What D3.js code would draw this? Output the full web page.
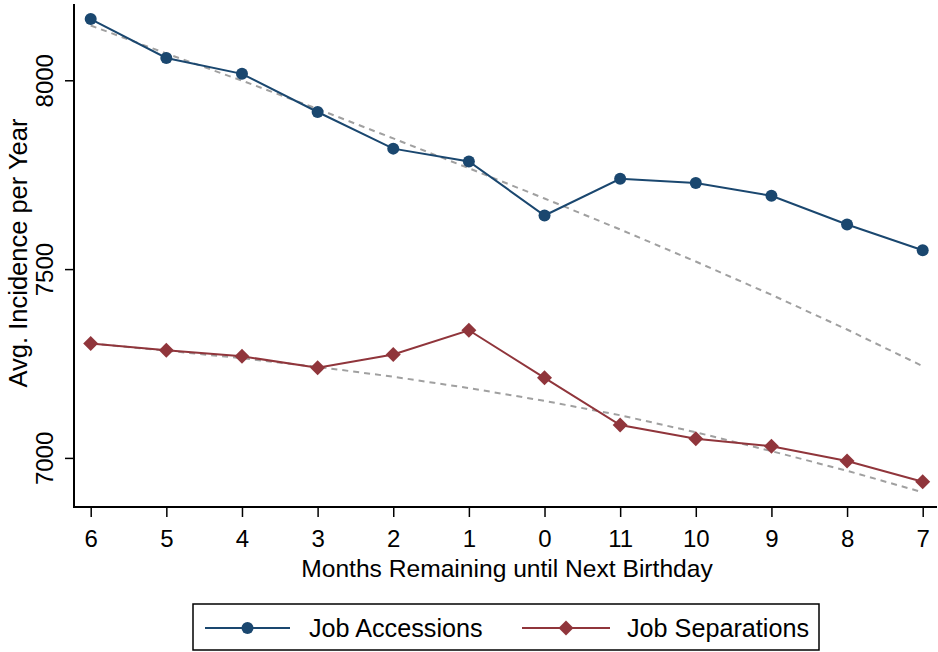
<!DOCTYPE html>
<html><head><meta charset="utf-8">
<script src="https://cdn.jsdelivr.net/npm/d3@7"></script>
<style>
html,body{margin:0;padding:0;background:#fff;}
svg{display:block;font-family:"Liberation Sans",Arial,sans-serif;}
</style></head>
<body>
<svg id="c" width="938" height="652"></svg>
<script>
const months = ["6","5","4","3","2","1","0","11","10","9","8","7"];
const accessions = [8162,8059,8017,7916,7819,7785,7642,7739,7728,7694,7618,7550];
const separations = [7303,7285,7269,7239,7274,7338,7212,7087,7051,7031,6992,6937];
const accessionsFit = [8145,8071,7999,7924,7846,7767,7687,7605,7520,7432,7340,7243];
const separationsFit = [7303,7284,7264,7241,7215,7185,7151,7113,7068,7018,6966,6909];
const yTicks = [7000,7500,8000];
const seriesNames = ["Job Accessions","Job Separations"];

(function(){
const navy = "#1a476f", maroon = "#90353b", gray = "#a0a0a0";
const svg = d3.select("#c");
const pL = 74, pR = 937, pT = 4, pB = 507;

const x = d3.scalePoint().domain(months).range([90.7, 922.7]);
const y = d3.scaleLinear().domain([6870, 8202]).range([pB, pT]);

const line = d3.line().x((d,i)=>x(months[i])).y(d=>y(d));
[accessionsFit, separationsFit].forEach(f=>{
  svg.append("path").attr("d", line(f)).attr("fill","none")
    .attr("stroke",gray).attr("stroke-width",2).attr("stroke-dasharray","6,5");
});

svg.append("path").attr("d", line(accessions)).attr("fill","none").attr("stroke",navy).attr("stroke-width",2);
svg.append("path").attr("d", line(separations)).attr("fill","none").attr("stroke",maroon).attr("stroke-width",2);

svg.selectAll("circle.acc").data(accessions).enter().append("circle")
  .attr("cx",(d,i)=>x(months[i])).attr("cy",d=>y(d)).attr("r",6).attr("fill",navy);
svg.selectAll("path.sep").data(separations).enter().append("path")
  .attr("d", d3.symbol().type(d3.symbolSquare).size(112))
  .attr("transform",(d,i)=>`translate(${x(months[i])},${y(d)}) rotate(45)`).attr("fill",maroon);

const yAxis = svg.append("g").attr("transform",`translate(${pL},0)`)
  .call(d3.axisLeft(y).tickValues(yTicks).tickSize(9).tickFormat(d3.format("d")));
yAxis.select(".domain").attr("d",`M0,${pT}V${pB+1}`).attr("stroke","#000").attr("stroke-width",2);
yAxis.selectAll(".tick line").attr("stroke","#000").attr("stroke-width",1.5);
yAxis.selectAll(".tick text").attr("font-size",24).attr("fill","#000")
  .attr("x",null).attr("dy",null).attr("text-anchor","middle")
  .attr("transform","translate(-21,0) rotate(-90)");

const xAxis = svg.append("g").attr("transform",`translate(0,${pB})`)
  .call(d3.axisBottom(x).tickSize(10).tickPadding(4));
xAxis.select(".domain").attr("d",`M${pL-1},0H${pR}`).attr("stroke","#000").attr("stroke-width",2);
xAxis.selectAll(".tick line").attr("stroke","#000").attr("stroke-width",1.5);
xAxis.selectAll(".tick text").attr("font-size",24).attr("fill","#000").attr("dy",null).attr("y",40);

svg.append("text").attr("x",507).attr("y",577).attr("text-anchor","middle")
  .attr("font-size",24.6).text("Months Remaining until Next Birthday");
svg.append("text").attr("transform","translate(27,253) rotate(-90)").attr("text-anchor","middle")
  .attr("font-size",25.5).text("Avg. Incidence per Year");

const lg = svg.append("g");
lg.append("rect").attr("x",193).attr("y",604).attr("width",626).attr("height",46)
  .attr("fill","#fff").attr("stroke","#000").attr("stroke-width",1.5);
const items = [{name:seriesNames[0],c:navy,x0:205,x1:290,tx:309,m:"c"},{name:seriesNames[1],c:maroon,x0:522,x1:610,tx:627,m:"d"}];
items.forEach(it=>{
  lg.append("line").attr("x1",it.x0).attr("x2",it.x1).attr("y1",628).attr("y2",628).attr("stroke",it.c).attr("stroke-width",2);
  const mx=(it.x0+it.x1)/2;
  if(it.m==="c") lg.append("circle").attr("cx",mx).attr("cy",628).attr("r",6).attr("fill",it.c);
  else lg.append("path").attr("d",d3.symbol().type(d3.symbolSquare).size(112)).attr("transform",`translate(${mx},628) rotate(45)`).attr("fill",it.c);
  lg.append("text").attr("x",it.tx).attr("y",637).attr("font-size",25.2).text(it.name);
});
})();
</script>
</body></html>
